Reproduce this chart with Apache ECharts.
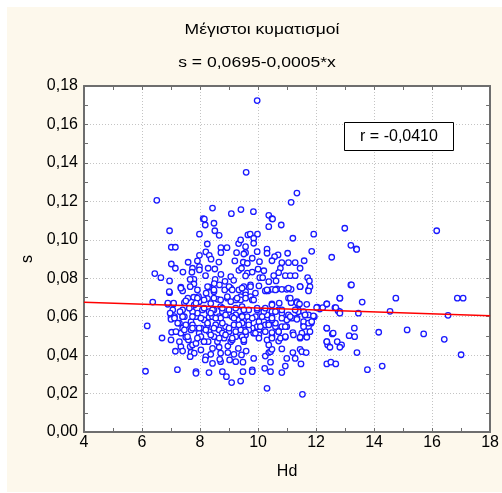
<!DOCTYPE html>
<html><head><meta charset="utf-8">
<script src="https://cdn.jsdelivr.net/npm/echarts@6/dist/echarts.min.js"></script>
<style>html,body{margin:0;padding:0;background:#fff}#c{width:502px;height:493px}</style>
</head><body><div id="c"></div>
<script>
const titleText = 'Μέγιστοι κυματισμοί';
const subtitleText = 's = 0,0695-0,0005*x';
const corrText = 'r = -0,0410';
const xName = 'Hd';
const yName = 's';
const xTicks = [4, 6, 8, 10, 12, 14, 16, 18];
const yTicks = [0, 0.02, 0.04, 0.06, 0.08, 0.10, 0.12, 0.14, 0.16, 0.18];
const fitX = [4, 18];
const fitY = [0.0675, 0.0605];
const hd = [
9.97,9.59,6.51,8.43,8.11,9.08,9.41,9.84,10.37,10.48,11.34,11.14,
8.15,8.48,8.18,6.95,8.51,7.98,8.66,9.65,8.25,7.01,7.15,8.72,8.93,9.33,8.72,8.2,9.26,9.57,7.98,8.32,8.38,7.91,7.59,8.65,9.2,9.49,7.01,7.15,7.98,7.98,7.74,8.28,8.51,7.41,7.72,6.44,6.65,8.19,8.72,9.06,9.34,9.63,7.79,7.66,6.95,8.52,8.86,9.16,7.79,8.49,8.67,8.31,7.34,7.4,6.95,7.91,8.21,8.48,8.85,9.06,9.34,9.51,9.57,7.58,7.78,7.95,8.26,8.61,8.94,9.45,6.37,6.89,7.09,7.46,7.8,7.97,8.37,8.71,9.23,9.45,7.06,7.4,7.69,8.08,8.48,9.0,7.0,7.4,7.86,8.31,8.66,9.11,9.45,
10.5,10.8,10.37,12.99,9.73,9.98,9.85,11.92,11.2,9.4,9.85,13.2,13.39,9.57,10.31,10.31,9.97,11.85,11.02,10.69,10.57,12.54,9.51,9.8,10.05,10.48,10.82,11.05,11.28,11.59,9.63,9.43,10.0,10.2,10.77,11.45,9.8,10.71,10.54,10.94,11.11,11.28,9.57,11.71,10.06,10.16,10.37,10.62,11.77,13.2,9.74,10.03,11.45,11.74,10.48,10.65,10.82,10.99,11.14,10.25,10.34,9.91,9.57,9.74,9.4,11.05,9.4,9.8,11.34,11.14,12.37,12.82,10.48,10.73,11.39,11.68,12.04,12.13,12.65,12.76,11.94,11.74,11.39,11.05,10.71,10.48,10.2,9.97,9.68,9.63,10.03,10.48,
6.18,6.69,7.02,7.15,6.12,7.22,7.34,7.4,7.66,7.74,7.86,7.69,7.8,7.66,7.86,7.86,8.14,8.28,8.2,8.18,8.37,8.31,8.43,8.71,8.71,8.68,8.77,8.91,9.09,8.96,9.02,9.17,9.23,9.43,9.48,9.48,9.59,9.32,8.96,8.66,8.43,8.03,6.97,7.12,7.0,7.31,7.46,7.29,7.34,7.4,7.69,7.74,7.69,7.51,7.6,7.86,8.03,7.97,8.03,8.26,8.31,8.14,7.91,8.43,8.54,8.48,8.66,8.6,8.77,8.88,8.83,9.0,9.06,9.17,9.23,9.34,9.4,9.51,9.57,9.51,9.0,8.71,9.23,8.77,8.31,7.74,
12.37,12.56,13.14,13.33,12.37,12.4,12.48,12.73,12.88,12.82,13.41,12.37,12.51,12.68,11.91,11.83,11.74,11.57,11.51,11.68,11.45,11.45,11.51,11.66,11.48,11.53,11.28,11.2,11.2,10.99,10.94,10.82,10.82,10.71,10.77,10.94,10.48,10.48,10.43,10.43,10.23,10.31,10.25,10.37,10.43,10.48,10.37,10.31,10.6,10.6,10.82,10.99,11.17,11.34,10.99,10.82,11.05,10.71,9.85,9.8,9.8,9.4,10.03,9.97,9.8,9.85,9.68,10.03,9.45,10.2,10.25,10.37,10.31,10.48,10.03,9.91,9.68,9.45,10.2,10.6,11.39,11.62,12.82,
16.16,13.4,13.59,14.75,16.87,17.07,13.46,14.55,16.55,13.32,14.16,15.14,15.71,16.42,17.0,13.77,14.28,
6.94,7.34,7.66,8.26,8.48,9.0,6.89,7.09,7.51,7.91,7.86,8.14,8.48,8.71,8.94,9.06,7.63,8.14,8.43,8.77,7.12,7.4,7.74,8.03,8.37,8.54,8.88,9.11,7.23,7.51,8.26,8.77,7.46,7.74,7.97,8.2,8.48,9.0,7.17,7.57,7.91,8.37,8.66,8.88,9.11,7.0,7.29,8.14,
9.11,9.45,9.74,10.31,10.6,11.05,9.28,9.57,9.85,11.11,9.23,9.51,9.97,10.25,10.48,10.82,11.28,9.17,9.45,9.8,10.14,10.48,10.82,11.11,9.34,9.68,10.08,10.37,10.94,9.23,9.57,9.91,10.25,10.71,11.22,9.11,9.51,10.03,10.48,10.94,
11.45,11.79,11.74,13.22,11.34,11.43,12.02,12.23,12.37,12.82,12.68,12.82,11.57,11.62,11.91,11.34,11.57,11.74,11.85,11.57,11.79,12.37,12.37,12.59,11.45,11.68
];
const sv = [
0.1724,0.1351,0.1205,0.1165,0.111,0.1136,0.1157,0.1146,0.1127,0.111,0.1243,0.1195,
0.1107,0.1086,0.1077,0.1047,0.1047,0.1029,0.1023,0.1025,0.0978,0.0961,0.0961,0.0959,0.0959,0.098,0.0933,0.0937,0.0933,0.0933,0.0919,0.0919,0.0899,0.089,0.0883,0.0884,0.089,0.0883,0.0874,0.0852,0.086,0.0843,0.0852,0.0852,0.0848,0.0832,0.0831,0.0824,0.0803,0.0813,0.082,0.0808,0.0841,0.0826,0.0794,0.0794,0.0786,0.0794,0.0784,0.0789,0.077,0.0772,0.0765,0.0753,0.0753,0.0734,0.0725,0.0739,0.0722,0.073,0.0739,0.0748,0.0739,0.0756,0.073,0.0696,0.0701,0.0704,0.0694,0.069,0.0696,0.0701,0.0676,0.0664,0.0666,0.0673,0.0661,0.0678,0.0668,0.0652,0.0687,0.0652,0.0635,0.0635,0.0644,0.0635,0.0635,0.0635,0.0597,0.06,0.06,0.0597,0.06,0.06,0.0604,
0.1108,0.1077,0.1068,0.106,0.1029,0.1029,0.1008,0.1029,0.1008,0.0999,0.0982,0.0971,0.0952,0.0964,0.0951,0.093,0.0938,0.094,0.093,0.0921,0.0912,0.0909,0.0926,0.0904,0.0886,0.0891,0.0881,0.0881,0.0881,0.0891,0.0878,0.0852,0.0847,0.0839,0.0852,0.0852,0.0832,0.0829,0.0813,0.0813,0.0813,0.0813,0.0812,0.0803,0.0803,0.0803,0.0782,0.0786,0.0786,0.0765,0.0765,0.076,0.0756,0.0739,0.0742,0.0744,0.0742,0.0742,0.0742,0.0734,0.0734,0.0722,0.0713,0.0704,0.0704,0.0696,0.0687,0.0687,0.0678,0.0673,0.0666,0.0696,0.0666,0.067,0.0661,0.0664,0.0649,0.064,0.0647,0.063,0.06,0.0609,0.0635,0.0604,0.0635,0.0626,0.0635,0.0635,0.0635,0.06,0.06,0.06,
0.0552,0.0489,0.0519,0.042,0.0316,0.0324,0.0444,0.0421,0.0444,0.0453,0.0461,0.0415,0.041,0.0392,0.0314,0.0305,0.047,0.047,0.0392,0.0375,0.0404,0.0309,0.0357,0.041,0.0366,0.0378,0.0314,0.0288,0.0257,0.0413,0.0375,0.0404,0.0366,0.0401,0.0363,0.0314,0.0421,0.0435,0.0447,0.0441,0.0435,0.0427,0.0618,0.06,0.0586,0.0626,0.06,0.0566,0.0514,0.054,0.0574,0.0557,0.0531,0.0493,0.0479,0.054,0.054,0.0514,0.0496,0.0557,0.0522,0.0583,0.0618,0.06,0.0557,0.0496,0.0531,0.047,0.0514,0.0548,0.0488,0.0522,0.047,0.0557,0.0496,0.0583,0.0531,0.047,0.0505,0.0557,0.0609,0.0592,0.0609,0.0626,0.0626,0.0626,
0.054,0.051,0.0501,0.0496,0.047,0.0453,0.0441,0.047,0.0453,0.0441,0.0413,0.0354,0.0363,0.0354,0.06,0.0566,0.0548,0.0557,0.0514,0.0496,0.0488,0.043,0.0418,0.0413,0.0354,0.0196,0.0383,0.0413,0.0517,0.0383,0.0343,0.0309,0.0432,0.0473,0.0488,0.0493,0.0499,0.0517,0.0363,0.0314,0.0331,0.0227,0.0395,0.0413,0.0418,0.043,0.0453,0.0479,0.0548,0.0566,0.0548,0.0548,0.0592,0.0592,0.0583,0.0618,0.0609,0.0522,0.0383,0.0323,0.0314,0.0265,0.0531,0.0548,0.054,0.0514,0.0531,0.0505,0.0496,0.0574,0.0557,0.0566,0.0609,0.0583,0.0574,0.06,0.0574,0.0566,0.0626,0.0626,0.0626,0.0609,0.0626,
0.1047,0.095,0.0676,0.0696,0.0696,0.0696,0.0618,0.0628,0.0607,0.054,0.0519,0.0531,0.051,0.0482,0.0402,0.0324,0.0343,
0.073,0.0748,0.0756,0.0756,0.0739,0.0756,0.067,0.067,0.0682,0.0696,0.067,0.0687,0.0696,0.0687,0.0704,0.0678,0.0644,0.0644,0.0635,0.0644,0.0592,0.06,0.06,0.0592,0.0618,0.0592,0.0609,0.06,0.0566,0.0557,0.0566,0.0566,0.0531,0.054,0.054,0.0531,0.054,0.054,0.0522,0.0496,0.0488,0.0505,0.0488,0.0505,0.0479,0.0479,0.047,0.047,
0.0739,0.0748,0.0756,0.0739,0.0739,0.0748,0.0696,0.0696,0.0687,0.0696,0.0644,0.0635,0.0644,0.0644,0.0661,0.0635,0.0635,0.0592,0.06,0.0592,0.06,0.0592,0.0592,0.06,0.0557,0.0557,0.0548,0.0557,0.0548,0.0522,0.0522,0.0514,0.0522,0.0522,0.0505,0.0488,0.0479,0.0488,0.0488,0.0496,
0.0756,0.0756,0.0734,0.0765,0.0673,0.0666,0.0647,0.0647,0.0666,0.0696,0.0647,0.0618,0.0626,0.0609,0.0604,0.0586,0.0574,0.0566,0.0574,0.0548,0.0522,0.054,0.047,0.0514,0.0493,0.0493
];

const FONT = '"Liberation Sans", Arial, sans-serif';
const AX = '#6e6e6e';
const points = hd.map((x, i) => [x, sv[i]]);
const fitLine = fitX.map((x, i) => [x, fitY[i]]);

const baseAxis = {
  type: 'value',
  axisLine: { show: true, onZero: false, lineStyle: { color: AX, width: 2 } },
  axisTick: { show: true, inside: true, length: 4, lineStyle: { color: AX, width: 1 } },
  minorTick: { show: true, splitNumber: 2, length: 4, lineStyle: { color: AX, width: 1 } }
};

const chart = echarts.init(document.getElementById('c'), null, { renderer: 'canvas' });
chart.setOption({
  animation: false,
  backgroundColor: '#ffffff',
  graphic: [
    { type: 'rect', z: -10, shape: { x: 7, y: 7, width: 495, height: 485 }, style: { fill: '#fdf8ec' } },
    { type: 'text', z: 10, x: 262, y: 30, scaleX: 1.25, style: { x: 0, y: 0, text: titleText, textAlign: 'center', textVerticalAlign: 'middle', font: '14px ' + FONT, fill: '#000' } },
    { type: 'text', z: 10, x: 257, y: 63, scaleX: 1.17, style: { x: 0, y: 0, text: subtitleText, textAlign: 'center', textVerticalAlign: 'middle', font: '15px ' + FONT, fill: '#000' } },
    { type: 'rect', z: 100, shape: { x: 344.5, y: 122.5, width: 109, height: 28 }, style: { fill: '#fff', stroke: '#000', lineWidth: 1 } },
    { type: 'text', z: 101, style: { x: 399, y: 137, text: corrText, textAlign: 'center', textVerticalAlign: 'middle', font: '16px ' + FONT, fill: '#000' } }
  ],
  grid: { left: 84, right: 9, top: 86, bottom: 61, show: true, backgroundColor: '#ffffff', borderWidth: 0 },
  xAxis: [
    Object.assign({}, baseAxis, {
      position: 'bottom', min: xTicks[0], max: xTicks[xTicks.length - 1], interval: 2,
      axisLabel: { show: true, fontSize: 16, fontFamily: FONT, color: '#000', margin: 3 },
      splitLine: { show: true, lineStyle: { color: '#c4c4c4', type: [1, 2], width: 1 } },
      name: xName, nameLocation: 'middle', nameGap: 32,
      nameTextStyle: { fontSize: 16, fontFamily: FONT, color: '#000' }
    }),
    Object.assign({}, baseAxis, {
      position: 'top', min: xTicks[0], max: xTicks[xTicks.length - 1], interval: 2,
      axisLabel: { show: false }, splitLine: { show: false }
    })
  ],
  yAxis: [
    Object.assign({}, baseAxis, {
      position: 'left', min: yTicks[0], max: yTicks[yTicks.length - 1], interval: 0.02,
      axisLabel: { show: true, fontSize: 16, fontFamily: FONT, color: '#000', margin: 6,
        formatter: v => v.toFixed(2).replace('.', ',') },
      splitLine: { show: true, lineStyle: { color: '#c4c4c4', type: [1, 2], width: 1 } },
      name: yName, nameLocation: 'middle', nameGap: 46, nameRotate: 90,
      nameTextStyle: { fontSize: 16, fontFamily: FONT, color: '#000' }
    }),
    Object.assign({}, baseAxis, {
      position: 'right', min: yTicks[0], max: yTicks[yTicks.length - 1], interval: 0.02,
      axisLabel: { show: false }, splitLine: { show: false }
    })
  ],
  series: [
    {
      type: 'scatter', xAxisIndex: 0, yAxisIndex: 0, data: points,
      symbol: 'circle', symbolSize: 5.5, z: 3,
      itemStyle: { color: '#ffffff', borderColor: '#1a1aff', borderWidth: 1.3, opacity: 1 }
    },
    {
      type: 'line', xAxisIndex: 0, yAxisIndex: 0, data: fitLine,
      showSymbol: false, symbol: 'none', z: 4,
      lineStyle: { color: '#ff0000', width: 1.5 }
    }
  ]
});
</script></body></html>
